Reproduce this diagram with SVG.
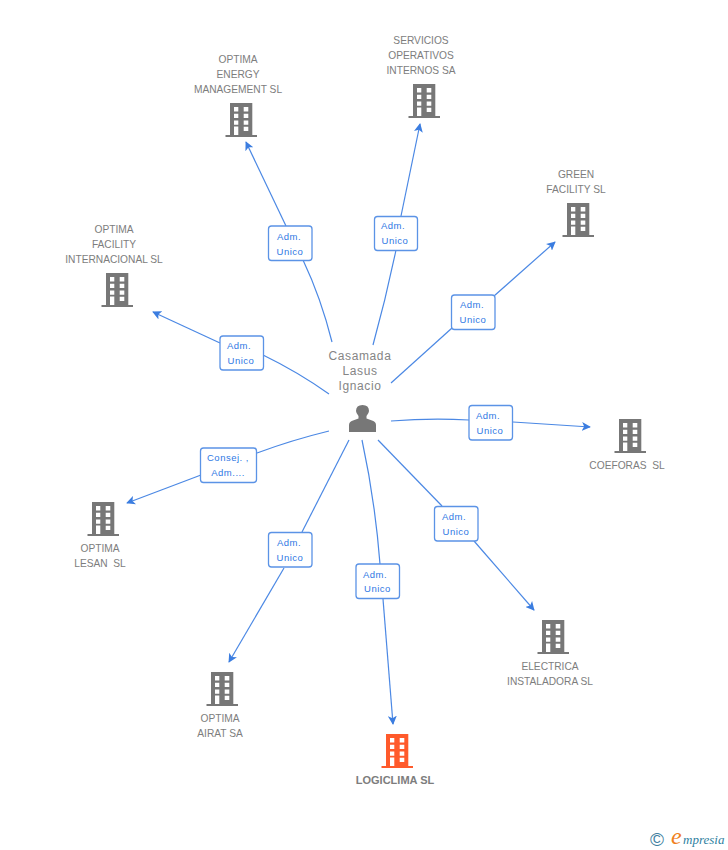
<svg xmlns="http://www.w3.org/2000/svg" width="728" height="850" viewBox="0 0 728 850">
<style>
.lbl{font:10.200px "Liberation Sans",Arial,sans-serif;fill:#7d7d7d;text-anchor:middle;white-space:pre}
.per{font:12px "Liberation Sans",Arial,sans-serif;fill:#858585;text-anchor:middle;letter-spacing:.6px}
.bt{font:9.500px "Liberation Sans",Arial,sans-serif;fill:#2f78e4;text-anchor:middle;letter-spacing:.5px}
.box{fill:#fff;stroke:#5b93e6;stroke-width:1.300}
.c{fill:none;stroke:#4b88e4;stroke-width:1.200}
.a{fill:none;stroke:#4b88e4;stroke-width:1.200;marker-end:url(#arr)}
</style>
<defs>
<marker id="arr" viewBox="0 0 10 10" refX="9" refY="5" markerWidth="9" markerHeight="9" markerUnits="userSpaceOnUse" orient="auto"><path d="M0 0L10 5L0 10L2.500 5Z" fill="#3b7de0"/></marker>
<path id="b" fill-rule="evenodd" d="M-11 0H11.300V32H16V34H-15.500V32H-11ZM-7 4V8.400H-2.700V4ZM2.700 4V8.400H7.300V4ZM-7 10.700V15H-2.700V10.700ZM2.700 10.700V15H7.300V10.700ZM-7 17.400V21.700H-2.700V17.400ZM2.700 17.400V21.700H7.300V17.400ZM-7 23.400V32H-2.700V23.400ZM2.700 23.700V28H7.300V23.700Z"/>
</defs>
<g id="connectors">
<path class="c" d="M332 342Q321 298 303 260"/><path class="a" d="M286 226L246 142"/>
<path class="c" d="M373 345Q386 298 396 250"/><path class="a" d="M401 216L420 124"/>
<path class="c" d="M391 383L452 328"/><path class="a" d="M494 296L555 242"/>
<path class="c" d="M329 394Q298 372 263 355"/><path class="a" d="M220 343L153 312"/>
<path class="c" d="M391 421Q430 418 469 420"/><path class="a" d="M513 422L590 427"/>
<path class="c" d="M329 431Q292 440 257 453"/><path class="a" d="M201 475L127 503"/>
<path class="c" d="M349 440L302 532"/><path class="a" d="M284 568L229 662"/>
<path class="c" d="M362 440Q375 500 380 564"/><path class="a" d="M383 599L393 724"/>
<path class="c" d="M378 440L442 506"/><path class="a" d="M474 541L534 610"/>
</g>
<g id="person"><path fill="#777" d="M349 432V425Q349 421.500 353 420.500L358.500 418.500V416Q356 413 356 411Q356 405 362.500 405Q369 405 369 411Q369 413 366.500 416V418.500L372 420.500Q376 421.500 376 425V432Z"/>
<text class="per" x="360" y="360">Casamada</text><text class="per" x="360" y="375">Lasus</text><text class="per" x="360" y="390">Ignacio</text></g>
<g id="n-energy"><use href="#b" x="241" y="103" fill="#777"/><text class="lbl" x="238" y="63">OPTIMA</text><text class="lbl" x="238" y="78">ENERGY</text><text class="lbl" x="238" y="93">MANAGEMENT SL</text></g>
<g id="n-servicios"><use href="#b" x="424" y="84" fill="#777"/><text class="lbl" x="421" y="44">SERVICIOS</text><text class="lbl" x="421" y="59">OPERATIVOS</text><text class="lbl" x="421" y="74">INTERNOS SA</text></g>
<g id="n-green"><use href="#b" x="578" y="203" fill="#777"/><text class="lbl" x="576" y="178">GREEN</text><text class="lbl" x="576" y="193">FACILITY SL</text></g>
<g id="n-facility"><use href="#b" x="117" y="273" fill="#777"/><text class="lbl" x="114" y="233">OPTIMA</text><text class="lbl" x="114" y="248">FACILITY</text><text class="lbl" x="114" y="263">INTERNACIONAL SL</text></g>
<g id="n-coeforas"><use href="#b" x="630" y="419" fill="#777"/><text class="lbl" x="627" y="469">COEFORAS  SL</text></g>
<g id="n-lesan"><use href="#b" x="103" y="502" fill="#777"/><text class="lbl" x="100" y="552">OPTIMA</text><text class="lbl" x="100" y="567">LESAN  SL</text></g>
<g id="n-airat"><use href="#b" x="222" y="672" fill="#777"/><text class="lbl" x="220" y="722">OPTIMA</text><text class="lbl" x="220" y="737">AIRAT SA</text></g>
<g id="n-electrica"><use href="#b" x="553" y="620" fill="#777"/><text class="lbl" x="550" y="670">ELECTRICA</text><text class="lbl" x="550" y="685">INSTALADORA SL</text></g>
<g id="n-logiclima"><use href="#b" x="397" y="734" fill="#ff5a2b"/><text class="lbl" x="395" y="784" style="font-weight:bold;font-size:11px">LOGICLIMA SL</text></g>
<g id="e-energy"><rect class="box" x="268.500" y="226" width="43.500" height="34.500" rx="3"/><text class="bt" x="289" y="240">Adm.</text><text class="bt" x="290" y="255">Unico</text></g>
<g id="e-servicios"><rect class="box" x="374.500" y="216.500" width="43" height="34" rx="3"/><text class="bt" x="393" y="229">Adm.</text><text class="bt" x="395" y="244">Unico</text></g>
<g id="e-green"><rect class="box" x="451.500" y="295" width="43.500" height="34.500" rx="3"/><text class="bt" x="472" y="308">Adm.</text><text class="bt" x="473" y="323">Unico</text></g>
<g id="e-facility"><rect class="box" x="220" y="336" width="43.500" height="34" rx="3"/><text class="bt" x="239" y="349">Adm.</text><text class="bt" x="241" y="364">Unico</text></g>
<g id="e-coeforas"><rect class="box" x="469" y="405.500" width="43.500" height="34.500" rx="3"/><text class="bt" x="488" y="419">Adm.</text><text class="bt" x="490" y="434">Unico</text></g>
<g id="e-lesan"><rect class="box" x="200.500" y="448" width="56" height="34.500" rx="3"/><text class="bt" x="228" y="461">Consej. ,</text><text class="bt" x="228" y="476">Adm....</text></g>
<g id="e-airat"><rect class="box" x="268.500" y="532.500" width="43.500" height="34.500" rx="3"/><text class="bt" x="289" y="546">Adm.</text><text class="bt" x="290" y="561">Unico</text></g>
<g id="e-logiclima"><rect class="box" x="356" y="564" width="43.500" height="34.500" rx="3"/><text class="bt" x="375" y="578">Adm.</text><text class="bt" x="377.500" y="592">Unico</text></g>
<g id="e-electrica"><rect class="box" x="434.500" y="506.500" width="43.500" height="34.500" rx="3"/><text class="bt" x="454" y="520">Adm.</text><text class="bt" x="456" y="535">Unico</text></g>
<g id="logo"><text x="650" y="846" style="font:19px 'Liberation Sans',sans-serif;fill:#3f7f9f">©</text><text x="671" y="844" style="font:italic 24px 'Liberation Serif',serif;fill:#f08020">e</text><text x="683" y="844" style="font:italic 13px 'Liberation Serif',serif;fill:#2f7f9f">mpresia</text></g>
</svg>
